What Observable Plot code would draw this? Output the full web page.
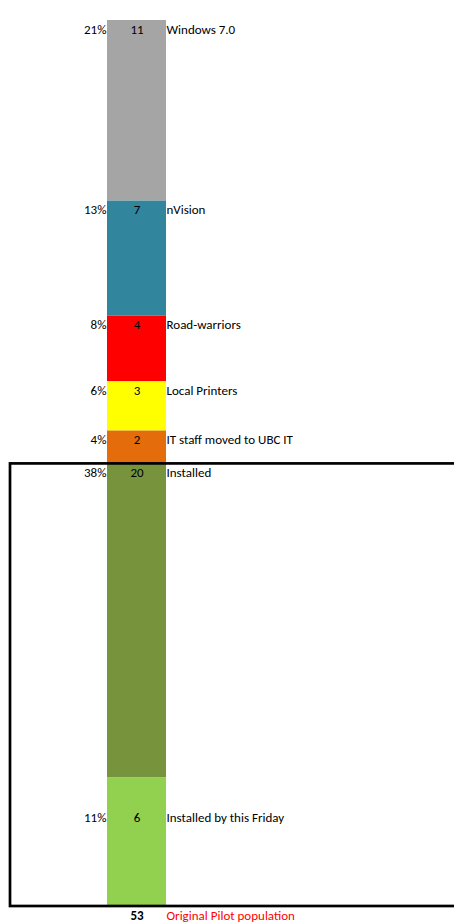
<!DOCTYPE html>
<html>
<head>
<meta charset="utf-8">
<script src="https://cdn.jsdelivr.net/npm/d3@7"></script>
<script src="https://cdn.jsdelivr.net/npm/@observablehq/plot@0.6"></script>
<style>
  html, body { margin: 0; padding: 0; background: #fff; overflow: hidden; }
  #chart svg { display: block; }
</style>
</head>
<body>
<div id="chart"></div>
<script>
// Segments, top to bottom
const categories = ["Windows 7.0", "nVision", "Road-warriors", "Local Printers", "IT staff moved to UBC IT", "Installed", "Installed by this Friday"];
// Segment lengths as drawn in the picture (bottom two are drawn longer/shorter than their labels)
const values = [11, 7, 4, 3, 2, 19.1, 7.85];
// Text labels as printed on the chart
const countLabels = ["11", "7", "4", "3", "2", "20", "6"];
const percentLabels = ["21%", "13%", "8%", "6%", "4%", "38%", "11%"];
// Where each label row sits, in the bar's units
const labelAnchors = [0, 11, 18, 22, 25, 27, 48];
const colors = ["#A5A5A5", "#31859C", "#FF0000", "#FFFF00", "#E46C0A", "#77933C", "#92D050"];
const totalLabel = "53";
const totalCaption = "Original Pilot population";
const boxedCategories = ["Installed", "Installed by this Friday"];

const group = "Pilot";
const ends = d3.cumsum(values);
const rows = categories.map((c, i) => ({
  category: c,
  y1: ends[i] - values[i],
  y2: ends[i],
  at: labelAnchors[i],
  count: countLabels[i],
  pct: percentLabels[i]
}));
const total = d3.sum(values);
const boxed = rows.filter(r => boxedCategories.includes(r.category));
const box = [{y1: d3.min(boxed, r => r.y1), y2: d3.max(boxed, r => r.y2)}];

const font = "Carlito, Calibri, Lato, sans-serif";
const fs = 13;

const chart = Plot.plot({
  width: 454,
  height: 922,
  marginTop: 20,
  marginBottom: 16,
  marginLeft: 10,
  marginRight: 0,
  style: {fontFamily: font, fontSize: fs + "px", background: "#fff", color: "#000"},
  x: {type: "band", domain: [group], range: [107, 166], padding: 0, axis: null},
  y: {domain: [0, total], range: [20, 906], axis: null},
  color: {domain: categories, range: colors},
  marks: [
    Plot.barY(rows, {x: () => group, y1: "y1", y2: "y2", fill: "category", inset: 0}),
    Plot.rect(box, {y1: "y1", y2: "y2", fill: "none", stroke: "#000", strokeWidth: 2.7, insetRight: -6}),
    Plot.text(rows, {x: () => group, y: "at", text: "pct", dy: 9, dx: -30.5, textAnchor: "end", fontSize: fs, fill: "#000"}),
    Plot.text(rows, {x: () => group, y: "at", text: "count", dy: 9, fontSize: fs, fill: "#000"}),
    Plot.text(rows, {x: () => group, y: "at", text: "category", dy: 9, dx: 29.5, textAnchor: "start", fontSize: fs, fill: "#000"}),
    Plot.text([total], {x: () => group, y: d => d, text: () => totalLabel, dy: 9.5, fontWeight: "bold", fontSize: fs, fill: "#000"}),
    Plot.text([total], {x: () => group, y: d => d, text: () => totalCaption, dy: 9.5, dx: 29.5, textAnchor: "start", fontSize: fs, fill: "#FF0000"})
  ]
});
document.getElementById("chart").appendChild(chart);
</script>
</body>
</html>
